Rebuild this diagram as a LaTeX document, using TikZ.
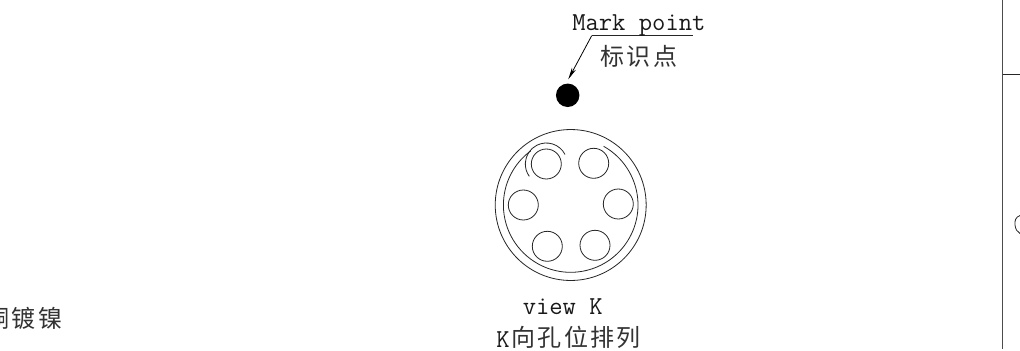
\documentclass[tikz,border=0pt]{standalone}
\usepackage{fontspec}
\usetikzlibrary{arrows.meta}
\newfontfamily\cjk[LetterSpace=10]{Noto Sans CJK SC}
\newfontfamily\lmono{Latin Modern Mono}
\tikzset{
  px/.style={x=0.75pt,y=-0.75pt},
  ink/.style={draw=black!85,line width=0.6pt},
  frameline/.style={draw=black!70,line width=1.1pt},
  hole/.style={circle,draw=black!85,line width=0.6pt,minimum size=22.5pt,inner sep=0pt},
  ring/.style={circle,draw=black!85,line width=0.6pt,inner sep=0pt},
  label/.style={inner sep=0pt,anchor=base west,text=black!90,font=\fontsize{19.4}{19.4}\selectfont\lmono},
  cjklabel/.style={inner sep=0pt,anchor=base west,text=black!80,font=\fontsize{18}{18}\selectfont\cjk},
  leader/.style={draw=black,line width=0.6pt,-{Stealth[length=9pt,width=3.4pt]}}
}
\begin{document}
\begin{tikzpicture}[px]
\useasboundingbox (0,0) rectangle (1020,350);
\clip (0,0) rectangle (1020,350);
\fill[white] (0,0) rectangle (1020,350);
% frame on the right
\coordinate (ftop) at (1002.7,0);
\coordinate (fbot) at (1002.7,349);
\coordinate (fjoin) at (1002.7,74);
\coordinate (fright) at (1020,74);
\draw[frameline] (ftop) -- (fbot);
\draw[ink] (fjoin) -- (fright);
\draw[ink] (1020,215.5) .. controls (1015.5,217) and (1014.5,221) .. (1015,225) .. controls (1015.5,229) and (1017,232) .. (1020,233.5);
% rings
\node[ring,minimum size=113.2pt] (outer) at (570.7,205) {};
\draw[ink] (570.7,205) ++(60.7:67.3 and -67.3) arc[start angle=60.7,end angle=-233.5,x radius=67.3,y radius=-67.3];
% holes
\node[hole] (h1) at (546.3,164) {};
\node[hole] (h2) at (593.7,163.3) {};
\node[hole] (h3) at (523.3,205) {};
\node[hole] (h4) at (618.3,204) {};
\node[hole] (h5) at (547.3,246.3) {};
\node[hole] (h6) at (595,245.3) {};
% index arc round the first hole
\draw[ink] (546.3,164) ++(27:21 and -21) arc[start angle=27,end angle=216,x radius=21,y radius=-21];
% mark point
\node[circle,fill=black,minimum size=17.6pt,inner sep=0pt] (mark) at (567.7,95.3) {};
\coordinate (lend) at (692.7,35.7);
\coordinate (lknee) at (591.7,35.7);
\coordinate (ltip) at (568.3,79.3);
\draw[ink] (lend) -- (lknee);
\draw[leader] (lknee) -- (ltip);
% texts
\node[label] (t1) at (572,30) {Mark point};
\node[cjklabel] (t2) at (600,65) {标识点};
\node[label] (t3) at (522.5,314) {view K};
\node[label] (t4) at (496,347) {K};
\node[cjklabel] (t5) at (511,346.5) {向孔位排列};
\node[cjklabel] (t6) at (-15,327) {铜镀镍};
\end{tikzpicture}
\end{document}
